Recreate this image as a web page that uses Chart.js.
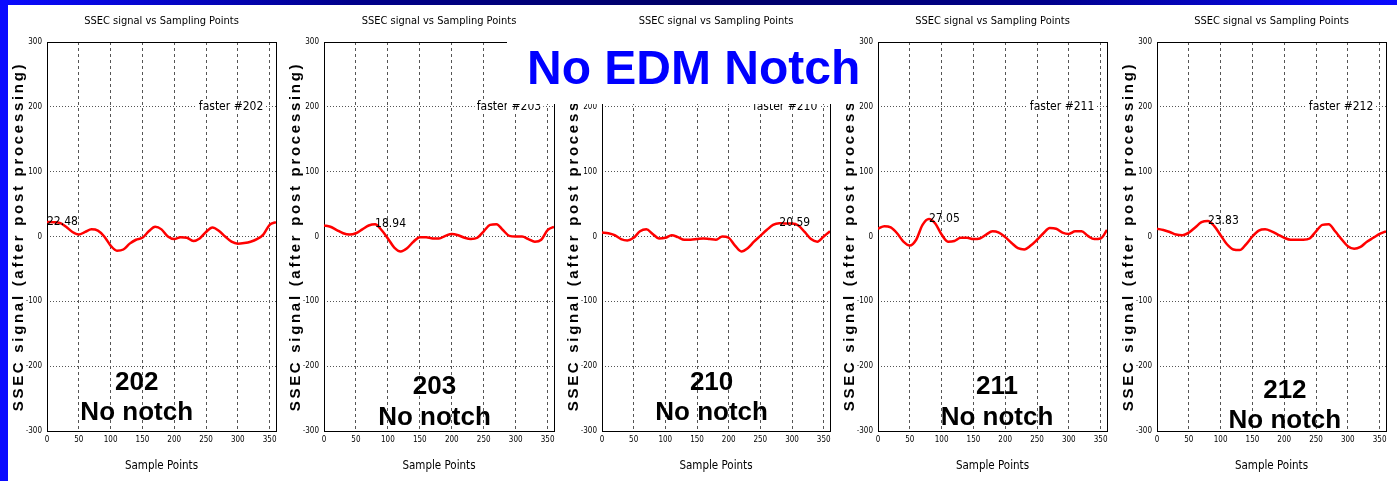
<!DOCTYPE html>
<html>
<head>
<meta charset="utf-8">
<script src="https://cdn.jsdelivr.net/npm/chart.js@4"></script>
<style>
  body { margin: 0; width: 1397px; height: 481px; background: #fff; position: relative; overflow: hidden; }
  #topbar { position: absolute; left: 0; top: 0; width: 1397px; height: 5px;
    background: linear-gradient(to right, #0a0aff 0%, #00008b 25%, #000066 50%, #00008b 75%, #0a0aff 100%); }
  #leftbar { position: absolute; left: 0; top: 0; width: 8px; height: 481px; background: #0a0aff; }
  canvas { position: absolute; top: 0; }
  #banner { position: absolute; left: 507px; top: 33px; width: 351px; height: 71px; background: #fff; z-index: 5; }
  #bannerText { position: absolute; left: 527px; top: 44px; z-index: 6; color: #0000ff;
    font: bold 48px 'Liberation Sans', Arial, sans-serif; line-height: 48px; white-space: nowrap; }
</style>
</head>
<body>
<div id="topbar"></div>
<div id="leftbar"></div>
<canvas id="c0"></canvas>
<canvas id="c1"></canvas>
<canvas id="c2"></canvas>
<canvas id="c3"></canvas>
<canvas id="c4"></canvas>
<div id="banner"></div>
<div id="bannerText">No EDM Notch</div>
<script>
const NARROW = "'Liberation Sans Narrow', 'DejaVu Sans Condensed', 'Liberation Sans', Arial, sans-serif";
const BOLD = "'Liberation Sans', Arial, sans-serif";

// sample index axis and tick labels
const samplePoints = [0, 10, 20, 30, 40, 50, 60, 70, 80, 90, 100, 110, 120, 130, 140, 150, 160, 170, 180,
  190, 200, 210, 220, 230, 240, 250, 260, 270, 280, 290, 300, 310, 320, 330, 340, 350, 360];
const xTicks = [0, 50, 100, 150, 200, 250, 300, 350];
const yTicks = [-300, -200, -100, 0, 100, 200, 300];

const boardIds = ['202', '203', '210', '211', '212'];

// SSEC signal after post processing, one series per fastener
const signal202 = [22.48, 22, 21, 15, 7, 3, 7, 11, 9, 0, -14, -22, -20, -11, -5, -2, 8, 15, 11,
  0, -4, -1, -2, -7, -3, 7, 14, 9, 0, -8, -11, -10, -8, -4, 3, 18, 22];
const signal203 = [17, 15, 10, 5, 3, 5, 11, 17, 18.94, 10, -3, -17, -23, -18, -8, -1, -1, -3, -3,
  1, 4, 2, -2, -4, -2, 8, 18, 19, 10, 1, 0, 0, -4, -8, -5, 10, 15];
const signal210 = [6, 5, 2, -4, -6, -2, 8, 11, 4, -3, -2, 2, -1, -5, -5, -4, -3, -4, -5,
  0, -2, -14, -23, -18, -8, 1, 10, 18, 20.59, 20, 20, 17, 7, -4, -8, 0, 8];
const signal211 = [12, 16, 14, 5, -8, -14, -5, 18, 27.05, 20, 3, -8, -7, -2, -2, -4, -3, 3, 8,
  6, -1, -10, -18, -20, -14, -5, 5, 13, 12, 6, 4, 8, 8, 1, -4, -3, 10];
const signal212 = [12, 10, 7, 3, 2, 6, 14, 22, 23.83, 16, 2, -12, -20, -21, -12, 0, 9, 11, 8,
  3, -2, -5, -5, -5, -3, 8, 18, 19, 8, -4, -15, -19, -16, -8, -2, 4, 8];
const signals = [signal202, signal203, signal210, signal211, signal212];

// index of the annotated peak in each series
const peakIndex = [0, 8, 28, 8, 8];

// panel placement (plot box left edge and width, px)
const plotLeft = [47, 324, 602, 878, 1157];
const plotWidth = [229, 230, 228, 229, 229];
const AXIS_W = 47, PAD_R = 8;
// where the board id sits, in data units
const boardAt = [[141, -225], [173, -232], [173, -225], [187, -232], [201, -238]];

const frame = {
  id: 'frame',
  beforeDraw(chart) {
    // the y title is tracked out a little, so wrap its draw once
    const s = chart.scales.y;
    if (!s._tracked) {
      const drawTitle = s.drawTitle;
      s.drawTitle = function () {
        this.ctx.save();
        this.ctx.letterSpacing = '2.7px';
        drawTitle.call(this);
        this.ctx.restore();
      };
      s._tracked = true;
    }
  },
  beforeDatasetsDraw(chart) {
    const { ctx, chartArea: a } = chart;
    ctx.save();
    ctx.strokeStyle = '#000';
    ctx.lineWidth = 1;
    ctx.strokeRect(Math.round(a.left) + 0.5, Math.round(a.top) + 0.5, Math.round(a.width), Math.round(a.height));
    ctx.restore();
  }
};

const panelNotes = {
  id: 'panelNotes',
  afterDatasetsDraw(chart, args, opts) {
    const { ctx, scales: { x, y } } = chart;
    const pt = chart.data.datasets[0].data[opts.peak];
    ctx.save();
    ctx.fillStyle = '#000';
    ctx.font = '12px ' + NARROW;
    ctx.textBaseline = 'middle';
    ctx.textAlign = 'left';

    // peak value label
    ctx.fillText(pt.y.toFixed(2), x.getPixelForValue(pt.x), y.getPixelForValue(pt.y));

    // fastener tag on a white patch, right edge near 340
    const w = ctx.measureText(opts.tag).width;
    const fx = x.getPixelForValue(340) - w, fy = y.getPixelForValue(200);
    ctx.fillStyle = '#fff';
    ctx.fillRect(fx - 2, fy - 7, w + 4, 14);
    ctx.fillStyle = '#000';
    ctx.fillText(opts.tag, fx, fy);

    // board id
    ctx.font = 'bold 26px ' + BOLD;
    ctx.textAlign = 'center';
    const bx = x.getPixelForValue(opts.at[0]);
    ctx.fillText(opts.board, bx, y.getPixelForValue(opts.at[1]));
    ctx.fillText('No notch', bx, y.getPixelForValue(opts.at[1] - 47));
    ctx.restore();
  }
};

function makePanel(k) {
  const canvas = document.getElementById('c' + k);
  canvas.width = AXIS_W + plotWidth[k] + PAD_R;
  canvas.height = 481;
  canvas.style.left = (plotLeft[k] - AXIS_W) + 'px';

  return new Chart(canvas, {
    type: 'line',
    data: {
      labels: samplePoints,
      datasets: [{
        data: samplePoints.map((s, j) => ({ x: s, y: signals[k][j] })),
        borderColor: '#ff0000',
        borderWidth: 2.5,
        pointRadius: 0,
        cubicInterpolationMode: 'monotone',
        fill: false
      }]
    },
    options: {
      responsive: false,
      animation: false,
      devicePixelRatio: 1,
      layout: { padding: { left: 0, right: PAD_R, top: 0, bottom: 0 } },
      plugins: {
        legend: { display: false },
        tooltip: { enabled: false },
        title: {
          display: true,
          fullSize: false,
          text: 'SSEC signal vs Sampling Points',
          color: '#000',
          font: { family: NARROW, size: 11, weight: 'normal' },
          padding: { top: 15, bottom: 13.8 }
        },
        panelNotes: { peak: peakIndex[k], tag: 'faster #' + boardIds[k], board: boardIds[k], at: boardAt[k] }
      },
      scales: {
        x: {
          type: 'linear',
          min: 0, max: 360,
          afterBuildTicks: s => { s.ticks = xTicks.map(v => ({ value: v })); },
          afterFit: s => { s.height = 50; },
          ticks: { color: '#000', font: { family: NARROW, size: 8 }, padding: 4, maxRotation: 0 },
          grid: { color: '#555', lineWidth: 1, drawTicks: false },
          border: { display: false, dash: [3, 3] },
          title: { display: true, text: 'Sample Points', color: '#000',
            font: { family: NARROW, size: 11.5 }, padding: { top: 0, bottom: 8 } }
        },
        y: {
          min: -300, max: 300,
          afterBuildTicks: s => { s.ticks = yTicks.map(v => ({ value: v })); },
          afterFit: s => { s.width = AXIS_W; },
          ticks: { color: '#000', font: { family: NARROW, size: 8 }, padding: 5 },
          grid: { color: '#555', lineWidth: 1, drawTicks: false },
          border: { display: false, dash: [1, 2] },
          title: { display: true, text: 'SSEC signal (after post processing)', color: '#000',
            font: { family: BOLD, size: 15, weight: 'bold' }, padding: { top: 10, bottom: 0 } }
        }
      }
    },
    plugins: [frame, panelNotes]
  });
}

boardIds.forEach((_, k) => makePanel(k));
</script>
</body>
</html>
